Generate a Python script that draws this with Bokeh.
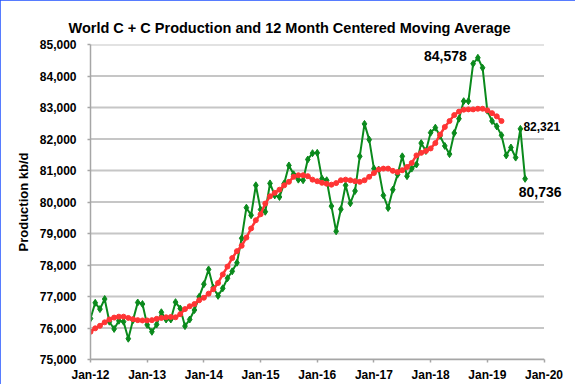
from bokeh.plotting import figure
from bokeh.models import FixedTicker, NumeralTickFormatter, Label
from bokeh.embed import file_html
from bokeh.resources import INLINE

# Monthly world C+C production (kb/d), Jan 2012 .. Sep 2019
production = [
    76300, 76800, 76600, 76920, 76200, 75970, 76230, 76200, 75660, 76250, 76810, 76760,  # 2012
    76100, 75880, 76110, 76500, 76270, 76270, 76820, 76620, 76060, 76270, 76570, 76990,  # 2013
    77390, 77860, 77280, 77020, 77260, 77580, 77800, 78070, 78850, 79820, 79580, 80530,  # 2014
    79760, 79690, 80590, 80210, 80160, 80590, 81160, 80880, 80710, 80690, 81350, 81550,  # 2015
    81560, 80740, 80690, 79870, 79070, 79770, 80530, 79960, 80350, 81450, 82480, 81980,  # 2016
    81060, 81030, 80210, 79810, 80390, 80870, 81450, 80820, 81060, 81190, 81870, 81620,  # 2017
    82200, 82360, 82100, 81780, 81520, 82190, 82645, 83200, 83200, 84390, 84578, 84260,  # 2018
    82900, 82570, 82400, 82120, 81480, 81730, 81410, 82321, 80736,                       # 2019
]

# 12 month centered moving average (kb/d), Jan 2012 .. Apr 2019
moving_avg = [
    75880, 75990, 76070, 76180, 76270, 76330, 76360, 76360, 76320, 76280, 76250, 76240,
    76240, 76250, 76290, 76320, 76340, 76350, 76340, 76440, 76600, 76690, 76760, 76880,
    76960, 77090, 77230, 77430, 77700, 77950, 78220, 78440, 78610, 78870, 79160, 79420,
    79610, 79950, 80180, 80290, 80390, 80530, 80640, 80800, 80850, 80850, 80820, 80710,
    80660, 80610, 80580, 80550, 80600, 80690, 80710, 80690, 80660, 80640, 80690, 80800,
    80920, 81030, 81060, 81060, 80990, 80950, 81010, 81110, 81240, 81480, 81560, 81620,
    81700, 81870, 82140, 82380, 82570, 82760, 82870, 82930, 82940, 82940, 82960, 82960,
    82910, 82820, 82720, 82570,
]

x_tick_labels = ["Jan-12", "Jan-13", "Jan-14", "Jan-15", "Jan-16",
                 "Jan-17", "Jan-18", "Jan-19", "Jan-20"]
y_ticks = [75000, 76000, 77000, 78000, 79000, 80000, 81000, 82000, 83000, 84000, 85000]

months = list(range(len(production)))
ma_months = list(range(len(moving_avg)))
x_ticks = [12 * i for i in range(len(x_tick_labels))]

GREEN = "#0a8a1c"
RED = "#ff3535"
FONT = "Liberation Sans"

# layout (pixels)
W, H = 575, 384
LEFT, TOP, RIGHT_AXIS_END, BOTTOM = 90, 44, 543.5, 360
FRAME_RIGHT = 566
# extend the x range beyond Jan-20 so that the end labels are not clipped
x_end = x_ticks[-1] * (FRAME_RIGHT - LEFT) / (RIGHT_AXIS_END - LEFT)

p = figure(width=W, height=H, output_backend="svg", toolbar_location=None,
           x_range=(x_ticks[0], x_end), y_range=(y_ticks[0], y_ticks[-1]),
           min_border_left=LEFT, min_border_right=W - FRAME_RIGHT,
           min_border_top=TOP, min_border_bottom=H - BOTTOM)
p.styles = {"outline": "3px solid #1f50ff", "outline-offset": "-3px"}
p.outline_line_color = None
p.background_fill_color = "white"
p.border_fill_color = "white"

p.title.text = "World C + C Production and 12 Month Centered Moving Average"
p.title.text_font = FONT
p.title.text_font_style = "bold"
p.title.text_font_size = "14.5px"
p.title.text_color = "black"
p.title.align = "left"
p.title.offset = -22
p.title.standoff = 18

# axes
for ax in (p.xaxis[0], p.yaxis[0]):
    ax.axis_line_color = "#a6a6a6"
    ax.axis_line_width = 1.5
    ax.major_tick_line_color = "#a6a6a6"
    ax.major_tick_line_width = 1.5
    ax.major_tick_out = 3
    ax.major_tick_in = 0
    ax.minor_tick_line_color = None
    ax.major_label_text_font = FONT
    ax.major_label_text_font_style = "bold"
    ax.major_label_text_font_size = "12px"
    ax.major_label_text_color = "black"

p.xaxis.ticker = FixedTicker(ticks=x_ticks)
p.xaxis.bounds = (x_ticks[0], x_ticks[-1])
p.xaxis.major_label_overrides = {t: l for t, l in zip(x_ticks, x_tick_labels)}
p.xaxis.major_label_standoff = 5

p.yaxis.ticker = FixedTicker(ticks=y_ticks)
p.yaxis.formatter = NumeralTickFormatter(format="0,0")
p.yaxis.major_label_standoff = 11
p.yaxis.axis_label = "Production kb/d"
p.yaxis.axis_label_text_font = FONT
p.yaxis.axis_label_text_font_style = "bold"
p.yaxis.axis_label_text_font_size = "13px"
p.yaxis.axis_label_text_color = "black"
p.yaxis.axis_label_standoff = 6

# horizontal gridlines, limited to the Jan-12 .. Jan-20 span
p.xgrid.visible = False
p.ygrid.visible = False
p.segment(x0=[x_ticks[0]] * len(y_ticks), x1=[x_ticks[-1]] * len(y_ticks),
          y0=y_ticks, y1=y_ticks, line_color="#c6c6c6", line_width=2, level="underlay")

# series
p.line(months, production, line_color=GREEN, line_width=2)
p.scatter(months, production, marker="diamond", size=7, fill_color=GREEN, line_color=GREEN)
p.line(ma_months, moving_avg, line_color=RED, line_width=2.5)
p.scatter(ma_months, moving_avg, marker="circle", size=5, fill_color=RED, line_color=RED)

# value labels
peak_i = production.index(max(production))
prev_i = len(production) - 2
last_i = len(production) - 1


def fmt(v):
    return f"{v:,.0f}"


def add_label(i, size, align, xo, yo):
    p.add_layout(Label(x=months[i], y=production[i], text=fmt(production[i]),
                       text_font=FONT, text_font_style="bold", text_font_size=size,
                       text_align=align, text_baseline="middle",
                       x_offset=xo, y_offset=yo, text_color="black"))


add_label(peak_i, "14px", "right", -11, 2)
add_label(prev_i, "12px", "left", 3, 2)
add_label(last_i, "14px", "center", 15, -13)

open("out.html", "w").write(file_html(p, INLINE))
